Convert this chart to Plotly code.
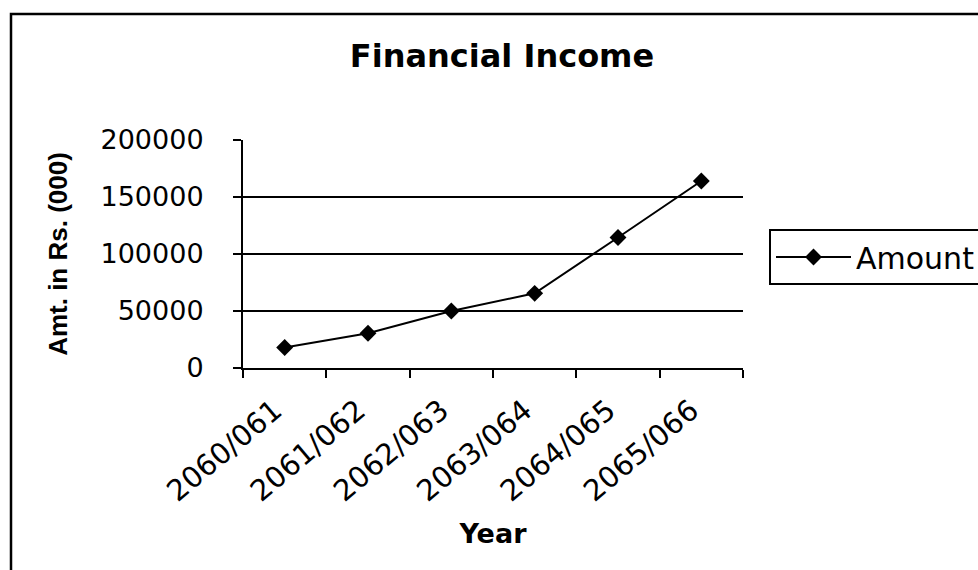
import plotly.graph_objects as go

# Financial income by fiscal year (Rs. in thousands)
years = ["2060/061", "2061/062", "2062/063", "2063/064", "2064/065", "2065/066"]
amounts = [18000, 30500, 50000, 65500, 114500, 164000]
y_ticks = [0, 50000, 100000, 150000, 200000]
y_tick_labels = ["0", "50000", "100000", "150000", "200000"]

W, H = 978, 570
L, R, T, B = 243, 235, 140, 202
pw, ph = W - L - R, H - T - B


def px_x(p):
    return (p - L) / pw


def px_y(p):
    return (H - B - p) / ph


fig = go.Figure()
fig.add_trace(go.Scatter(
    x=years, y=amounts, name="Amount", mode="lines+markers",
    line=dict(color="black", width=2),
    marker=dict(symbol="diamond", size=13, color="black"),
))

fig.update_layout(
    width=W, height=H,
    margin=dict(l=L, r=R, t=T, b=B, autoexpand=False),
    paper_bgcolor="white", plot_bgcolor="white",
    title=dict(
        text="Financial Income", x=502 / W, xanchor="center",
        y=1 - 56 / H, yanchor="middle", yref="container",
        font=dict(family="DejaVu Sans", size=32, color="black", weight="bold"),
    ),
    showlegend=True,
    legend=dict(
        x=px_x(769), xanchor="left", y=px_y(229), yanchor="top",
        bordercolor="black", borderwidth=2, bgcolor="white",
        font=dict(family="DejaVu Sans", size=30, color="black"),
        itemwidth=75,
    ),
    font=dict(family="DejaVu Sans", color="black"),
)

fig.update_xaxes(
    type="category", range=[-0.5, len(years) - 0.5],
    tickson="boundaries", ticks="outside", ticklen=8, tickwidth=2, tickcolor="black",
    tickangle=-40, ticklabelstandoff=12, ticklabelshift=-10,
    tickfont=dict(family="DejaVu Sans", size=29, color="black"),
    showline=True, linecolor="black", linewidth=2, showgrid=False, zeroline=False,
    title=dict(text="Year", standoff=17,
               font=dict(family="DejaVu Sans", size=27, color="black", weight="bold")),
)

fig.update_yaxes(
    range=[0, 200000], tickvals=y_ticks, ticktext=y_tick_labels,
    ticks="outside", ticklen=8, tickwidth=2, tickcolor="black", ticklabelstandoff=24,
    tickfont=dict(family="DejaVu Sans", size=27, color="black"),
    showline=True, linecolor="black", linewidth=2,
    showgrid=True, gridcolor="black", gridwidth=2, zeroline=False,
    title=dict(text="Amt. in Rs. (000)", standoff=25,
               font=dict(family="Liberation Sans", size=26, color="black", weight="bold")),
)

# chart-area frame running off the right and bottom edges
fig.add_shape(type="rect", xref="paper", yref="paper",
              x0=px_x(11), y0=px_y(14), x1=px_x(W + 50), y1=px_y(H + 50),
              line=dict(color="black", width=2.5), layer="below")

fig.write_html("out.html")
